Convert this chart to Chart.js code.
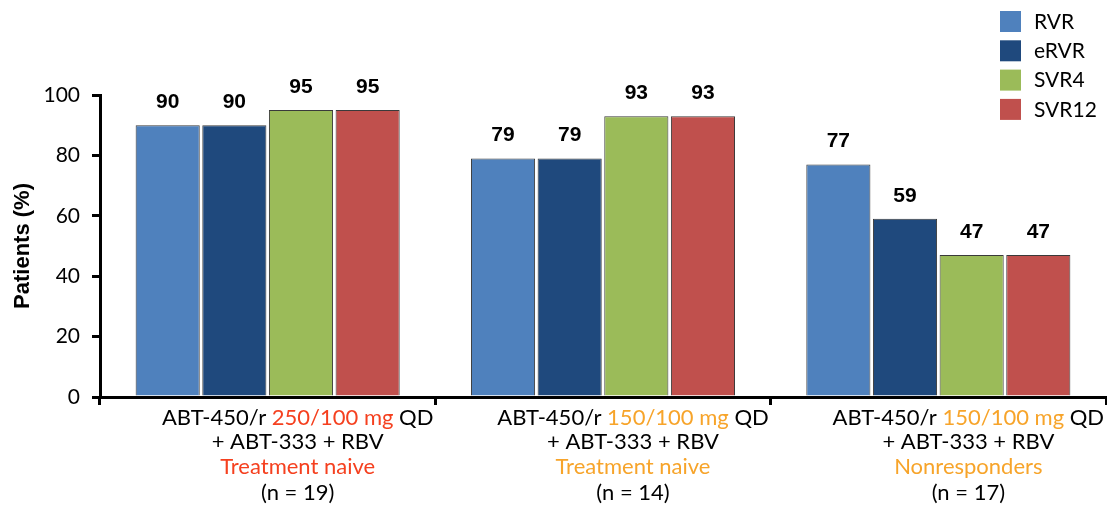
<!DOCTYPE html>
<html>
<head>
<meta charset="utf-8">
<script src="https://cdn.jsdelivr.net/npm/chart.js@4.4.1/dist/chart.umd.min.js"></script>
<style>
  html, body { margin: 0; padding: 0; background: #ffffff; }
  #wrap { width: 1107px; height: 510px; position: relative; }
</style>
</head>
<body>
<div id="wrap"><canvas id="chart" width="1107" height="510"></canvas></div>
<script>
// Regimen groups
const categories = ['250/100 mg', '150/100 mg', '150/100 mg'];
const doseLabels = ['250/100 mg', '150/100 mg', '150/100 mg'];
const populations = ['Treatment naive', 'Treatment naive', 'Nonresponders'];
const sampleSizes = ['(n = 19)', '(n = 14)', '(n = 17)'];
const accentColors = ['#F5401F', '#F7A42A', '#F7A42A'];

// Response rates (% of patients)
const seriesNames = ['RVR', 'eRVR', 'SVR4', 'SVR12'];
const rvr   = [90, 79, 77];
const ervr  = [90, 79, 59];
const svr4  = [95, 93, 47];
const svr12 = [95, 93, 47];
const seriesColors = ['#4F81BD', '#1F497D', '#9BBB59', '#C0504D'];

const yTicks = [0, 20, 40, 60, 80, 100];

const tickFont = "Lato, 'Noto Sans', sans-serif";
const boldFont = "'Liberation Sans', Arial, sans-serif";

// Value labels above each bar
const valueLabels = {
  id: 'valueLabels',
  afterDatasetsDraw(chart) {
    const ctx = chart.ctx;
    ctx.save();
    ctx.font = 'bold 21px ' + boldFont;
    ctx.fillStyle = '#000';
    ctx.textAlign = 'center';
    ctx.textBaseline = 'middle';
    chart.data.datasets.forEach((ds, i) => {
      chart.getDatasetMeta(i).data.forEach((bar, j) => {
        ctx.fillText(String(ds.data[j]), bar.x, bar.y - 23);
      });
    });
    ctx.restore();
  }
};

// Multi-line, two-colour group captions under the x axis
const groupCaptions = {
  id: 'groupCaptions',
  afterDraw(chart) {
    const ctx = chart.ctx;
    const xs = chart.scales.x;
    ctx.save();
    ctx.font = '22px ' + tickFont;
    ctx.textBaseline = 'middle';
    categories.forEach((c, i) => {
      const cx = xs.getPixelForValue(i) + 30;
      const top = chart.chartArea.bottom;
      // first line: prefix + coloured dose + suffix
      const parts = [['ABT-450/r ', '#000'], [doseLabels[i], accentColors[i]], [' QD', '#000']];
      const total = parts.reduce((s, p) => s + ctx.measureText(p[0]).width, 0);
      let x = cx - total / 2;
      ctx.textAlign = 'left';
      parts.forEach(p => {
        ctx.fillStyle = p[1];
        ctx.fillText(p[0], x, top + 21);
        x += ctx.measureText(p[0]).width;
      });
      ctx.textAlign = 'center';
      ctx.fillStyle = '#000';
      ctx.fillText('+ ABT-333 + RBV', cx, top + 45);
      ctx.fillStyle = accentColors[i];
      ctx.fillText(populations[i], cx, top + 70);
      ctx.fillStyle = '#000';
      ctx.fillText(sampleSizes[i], cx, top + 96);
    });
    ctx.restore();
  }
};

// Legend in the top-right corner
const cornerLegend = {
  id: 'cornerLegend',
  afterDraw(chart) {
    const ctx = chart.ctx;
    ctx.save();
    ctx.font = '21px ' + tickFont;
    ctx.textBaseline = 'middle';
    ctx.textAlign = 'left';
    chart.data.datasets.forEach((ds, i) => {
      const y = 11 + i * 29.3;
      ctx.fillStyle = ds.backgroundColor;
      ctx.fillRect(1000, y, 21, 21);
      ctx.fillStyle = '#000';
      ctx.fillText(ds.label, 1034, y + 11);
    });
    ctx.restore();
  }
};

const seriesData = [rvr, ervr, svr4, svr12];

new Chart(document.getElementById('chart'), {
  type: 'bar',
  data: {
    labels: categories,
    datasets: seriesNames.map((name, i) => ({
      label: name,
      data: seriesData[i],
      backgroundColor: seriesColors[i],
      borderColor: '#3a3a3a',
      borderWidth: 1,
      categoryPercentage: 0.795,
      barPercentage: 0.962
    }))
  },
  options: {
    responsive: false,
    animation: false,
    layout: { padding: { top: 95, right: 1, left: 10, bottom: 0 } },
    plugins: {
      legend: { display: false },
      tooltip: { enabled: false }
    },
    scales: {
      x: {
        grid: {
          offset: true,
          drawOnChartArea: false,
          drawTicks: true,
          tickLength: 8,
          lineWidth: 3,
          color: '#000'
        },
        border: { display: true, color: '#000', width: 3 },
        ticks: { display: false },
        afterFit(scale) { scale.height = 113; }
      },
      y: {
        min: 0,
        max: 100,
        afterBuildTicks(scale) { scale.ticks = yTicks.map(v => ({ value: v })); },
        grid: {
          drawOnChartArea: false,
          drawTicks: true,
          tickLength: 8,
          lineWidth: 3,
          color: '#000'
        },
        border: { display: true, color: '#000', width: 3 },
        ticks: {
          font: { family: tickFont, size: 21 },
          color: '#000',
          padding: 12
        },
        title: {
          display: true,
          text: 'Patients (%)',
          font: { family: boldFont, size: 22, weight: 'bold' },
          color: '#000',
          padding: { top: 0, bottom: 4 }
        },
        afterFit(scale) { scale.width = 90; }
      }
    }
  },
  plugins: [valueLabels, groupCaptions, cornerLegend]
});
</script>
</body>
</html>
